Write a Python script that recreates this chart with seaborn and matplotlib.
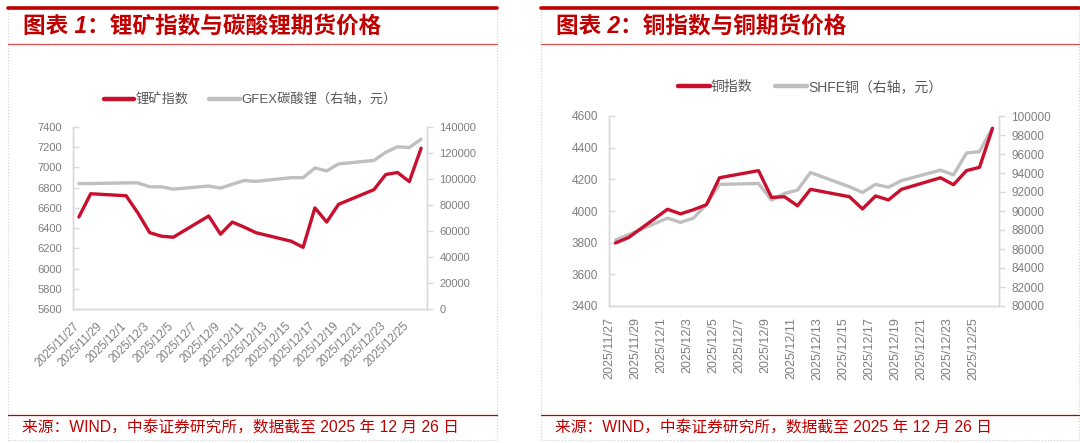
import pandas as pd
import numpy as np
import matplotlib
matplotlib.use("Agg")
import matplotlib.pyplot as plt
from matplotlib.lines import Line2D
from matplotlib.patches import Rectangle
import seaborn as sns

# trading days shared by both charts
dates = ["2025-11-27", "2025-11-28", "2025-12-01", "2025-12-02", "2025-12-03",
         "2025-12-04", "2025-12-05", "2025-12-08", "2025-12-09", "2025-12-10",
         "2025-12-11", "2025-12-12", "2025-12-15", "2025-12-16", "2025-12-17",
         "2025-12-18", "2025-12-19", "2025-12-22", "2025-12-23", "2025-12-24",
         "2025-12-25", "2025-12-26"]

# chart 1
lithium_idx = [6510, 6740, 6720, 6550, 6355, 6320, 6310, 6520, 6340, 6460,
               6410, 6355, 6270, 6210, 6600, 6460, 6635, 6780, 6930, 6950,
               6860, 7190]
gfex_li2co3 = [96500, 96500, 97000, 97000, 94000, 94000, 92200, 94600, 93000, 96000,
               98800, 98200, 101000, 101000, 108500, 106200, 111600, 114300, 120500, 124800,
               124200, 130600]

# chart 2
copper_idx = [3798, 3832, 4011, 3982, 4008, 4040, 4210, 4255, 4086, 4090,
              4033, 4137, 4090, 4013, 4095, 4070, 4137, 4210, 4166, 4255,
              4276, 4522]
shfe_cu = [86950, 87500, 89250, 88800, 89250, 90700, 92800, 92900, 91150, 91850,
           92200, 94050, 92550, 91950, 92800, 92500, 93200, 94300, 93800, 96100,
           96250, 98750]

RED = "#C8102E"
GRAY = "#BFBFBF"
TXT = "#7F7F7F"
AXC = "#D9D9D9"
TITLE_RED = "#C00000"

sns.set_style("white")
plt.rcParams["font.family"] = ["Liberation Sans", "Noto Sans CJK SC"]

x = pd.to_datetime(dates) + pd.Timedelta(hours=12)
x_start = pd.Timestamp("2025-11-27")
x_end = pd.Timestamp("2025-12-27")
ticks = pd.date_range(x_start, "2025-12-25", freq="2D")
tick_labels = [f"{d.year}/{d.month}/{d.day}" for d in ticks]

fig = plt.figure(figsize=(10.8, 4.43), dpi=100)


def panel(rect, left_vals, right_vals, ylim, ylim2, yticks, yticks2,
          names, legend_xy, legend_fs, xrot, xfs, yfs):
    ax = fig.add_axes(rect)
    ax2 = ax.twinx()
    sns.lineplot(x=x, y=right_vals, ax=ax2, color=GRAY, lw=2.4)
    sns.lineplot(x=x, y=left_vals, ax=ax, color=RED, lw=2.4)
    ax.set_zorder(ax2.get_zorder() + 1)
    ax.patch.set_visible(False)

    ax.set_xlim(x_start, x_end)
    ax.set_xticks(ticks)
    if xrot == 45:
        ax.set_xticklabels(tick_labels, rotation=45, ha="right", rotation_mode="anchor")
    else:
        ax.set_xticklabels(tick_labels, rotation=90, ha="center", va="top")
    ax.set_ylim(*ylim)
    ax.set_yticks(yticks)
    ax2.set_ylim(*ylim2)
    ax2.set_yticks(yticks2)
    ax.set_xlabel("")
    ax.set_ylabel("")
    ax2.set_ylabel("")

    for a in (ax, ax2):
        for s in a.spines.values():
            s.set_color(AXC)
            s.set_linewidth(1.0)
        a.spines["top"].set_visible(False)
    ax.tick_params(axis="x", direction="out", length=4, width=1, color=AXC,
                   labelcolor=TXT, labelsize=xfs, pad=4)
    ax.tick_params(axis="y", direction="in", length=4, width=1, color=AXC,
                   labelcolor=TXT, labelsize=yfs, pad=8)
    ax2.tick_params(axis="y", direction="out", length=4, width=1, color=AXC,
                    labelcolor=TXT, labelsize=yfs, pad=5)

    handles = [Line2D([], [], color=RED, lw=3.2), Line2D([], [], color=GRAY, lw=3.2)]
    ax.legend(handles, names, loc="center", bbox_to_anchor=legend_xy,
              bbox_transform=fig.transFigure, ncol=2, frameon=False,
              fontsize=legend_fs, handlelength=2.3, handletextpad=0.1,
              columnspacing=1.6, labelcolor="#595959")
    return ax


W, H = 1080, 443


def fx(px):
    return px / W


def fy(py):
    return 1 - py / H


panel([fx(73), fy(309), fx(427 - 73), (309 - 127) / H],
      lithium_idx, gfex_li2co3, (5600, 7400), (0, 140000),
      np.arange(5600, 7401, 200), np.arange(0, 140001, 20000),
      ["锂矿指数", "GFEX碳酸锂（右轴，元）"], (fx(250), fy(100)), 9.5, 45, 8.3, 8)

panel([fx(609), fy(306), fx(999 - 609), (306 - 116) / H],
      copper_idx, shfe_cu, (3400, 4600), (80000, 100000),
      np.arange(3400, 4601, 200), np.arange(80000, 100001, 2000),
      ["铜指数", "SHFE铜（右轴，元）"], (fx(810), fy(87)), 10, 90, 9, 8.5)

# panel frames, title bars and source lines
for x0, x1, num, title in [(8, 497, "1", "锂矿指数与碳酸锂期货价格"),
                           (541, 1079, "2", "铜指数与铜期货价格")]:
    fig.add_artist(Rectangle((fx(x0), fy(440)), fx(x1 - x0), (440 - 7) / H,
                             transform=fig.transFigure, fill=False,
                             ec="#D0D0D0", lw=0.8, ls=":"))
    fig.add_artist(Line2D([fx(x0), fx(x1)], [fy(7.5), fy(7.5)],
                          transform=fig.transFigure, color=TITLE_RED, lw=2.6))
    fig.add_artist(Line2D([fx(x0), fx(x1)], [fy(43.5), fy(43.5)],
                          transform=fig.transFigure, color="#E05050", lw=0.9))
    fig.add_artist(Line2D([fx(x0), fx(x1)], [fy(415), fy(415)],
                          transform=fig.transFigure, color=TITLE_RED, lw=0.9))
    fig.text(fx(x0 + 15), fy(27), f"图表 {num}：{title}", color=TITLE_RED,
             fontsize=16.3, fontweight="bold", fontstyle="italic", va="center")
    fig.text(fx(x0 + 14), fy(427), "来源：WIND，中泰证券研究所，数据截至 2025 年 12 月 26 日",
             color=TITLE_RED, fontsize=11.3, va="center")

fig.savefig("out.png", dpi=100)
